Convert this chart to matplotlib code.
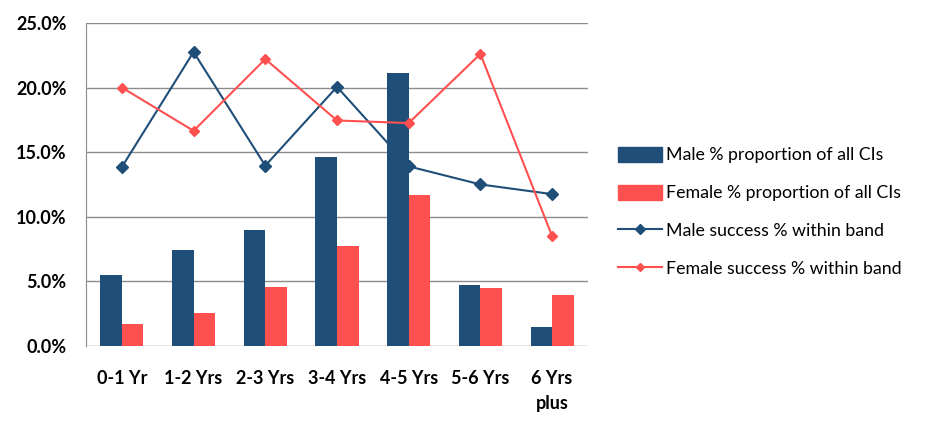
import matplotlib.pyplot as plt
import numpy as np
from matplotlib.ticker import FuncFormatter
from matplotlib.lines import Line2D
from matplotlib.patches import Patch

plt.rcParams['font.family'] = ['Lato', 'DejaVu Sans']

categories = ['0-1 Yr', '1-2 Yrs', '2-3 Yrs', '3-4 Yrs', '4-5 Yrs', '5-6 Yrs', '6 Yrs\nplus']
male_prop = [5.5, 7.4, 9.0, 14.6, 21.1, 4.7, 1.5]
female_prop = [1.7, 2.55, 4.6, 7.7, 11.7, 4.5, 3.95]
male_success = [13.85, 22.75, 13.95, 20.05, 13.9, 12.5, 11.75]
female_success = [20.0, 16.65, 22.2, 17.45, 17.25, 22.6, 8.5]

navy = '#1F4E79'
red = '#FF5050'

fig = plt.figure(figsize=(9.4, 4.24), dpi=100)
ax = fig.add_axes([0.0915, 0.184, 0.534, 0.762])

x = np.arange(len(categories))
w = 0.3
ax.bar(x - w / 2, male_prop, w, color=navy, zorder=2)
ax.bar(x + w / 2, female_prop, w, color=red, zorder=2)
ax.plot(x, male_success, color=navy, marker='D', markersize=6, linewidth=1.5, zorder=3)
ax.plot(x, female_success, color=red, marker='D', markersize=5, linewidth=1.5, zorder=3)

ax.set_xlim(-0.5, len(categories) - 0.5)
ax.set_ylim(0, 25)
ax.set_yticks(np.arange(0, 26, 5))
ax.yaxis.set_major_formatter(FuncFormatter(lambda v, p: f'{v:.1f}%'))
ax.grid(axis='y', color='#8c8c8c', linewidth=1, zorder=0)
ax.set_axisbelow(True)
for s in ['top', 'right', 'bottom']:
    ax.spines[s].set_visible(False)
ax.spines['left'].set_color('#8c8c8c')
ax.tick_params(length=0)
ax.tick_params(axis='y', pad=14)
ax.tick_params(axis='x', pad=17)
ax.set_xticks(x)
ax.set_xticklabels(categories, fontsize=13, fontweight='bold', linespacing=1.6)
for lab in ax.get_yticklabels():
    lab.set_fontsize(13)
    lab.set_fontweight('bold')

handles = [
    Patch(color=navy, label='Male % proportion of all CIs'),
    Patch(color=red, label='Female % proportion of all CIs'),
    Line2D([], [], color=navy, marker='D', markersize=5, linewidth=1.5, label='Male success % within band'),
    Line2D([], [], color=red, marker='D', markersize=4, linewidth=1.5, label='Female success % within band'),
]
fig.legend(handles=handles, loc='center left', bbox_to_anchor=(0.64, 0.5), frameon=False,
           fontsize=12.8, handlelength=2.5, handleheight=0.9, handletextpad=0.25, labelspacing=1.2)

fig.savefig('out.png', dpi=100)
